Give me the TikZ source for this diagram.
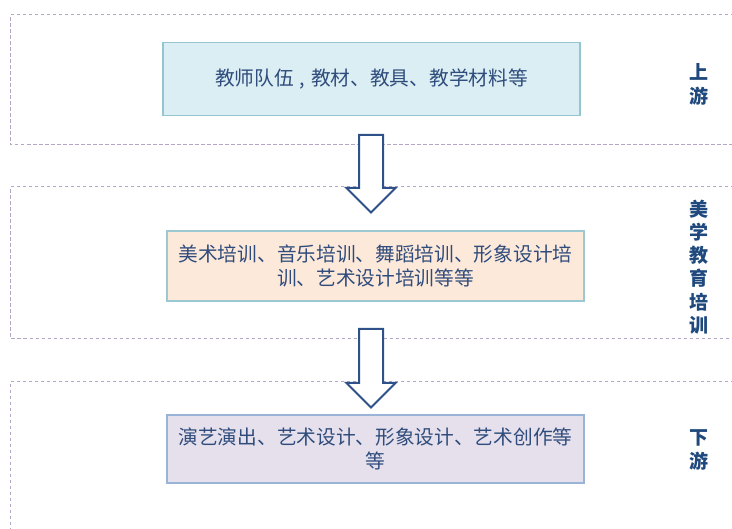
\documentclass[tikz,border=0pt]{standalone}
\usepackage{fontspec}
\usetikzlibrary{calc}
\setmainfont{Noto Sans CJK SC}
\newfontfamily\cjk{Noto Sans CJK SC}
\definecolor{dashc}{HTML}{B4A7C6}
\definecolor{txtc}{HTML}{2F4C7C}
\definecolor{lblc}{HTML}{1F497D}
\definecolor{arrc}{HTML}{2E5189}
\definecolor{fillA}{HTML}{DBEEF3}
\definecolor{drawA}{HTML}{93C6D1}
\definecolor{fillB}{HTML}{FDE9DA}
\definecolor{drawB}{HTML}{9CC8D2}
\definecolor{fillC}{HTML}{E5E0EC}
\definecolor{drawC}{HTML}{9AB4D8}
\tikzset{
  zone/.style={draw=dashc, line width=1pt, dash pattern=on 3.5pt off 2.5pt},
  boxnode/.style={rectangle, line width=1.5pt, minimum width=417pt, inner sep=0pt,
     align=center, text=txtc, font=\cjk\fontsize{19.7}{24}\selectfont},
  lblnode/.style={align=center, text=lblc, inner sep=0pt,
     font=\cjk\bfseries\fontsize{19}{23.3}\selectfont},
  blockarrow/.style={draw=arrc, fill=white, line width=2pt, line join=miter},
}
\begin{document}
\begin{tikzpicture}[x=1pt,y=-1pt]
\useasboundingbox (0,0) rectangle (732,529);
% dashed zones (open to the right)
\draw[zone] (740,15) -- (10.5,15) -- (10.5,145) -- (740,145);
\draw[zone] (740,187) -- (10.5,187) -- (10.5,338.5) -- (740,338.5);
\draw[zone] (740,381.5) -- (10.5,381.5) -- (10.5,535);
% boxes
\node[boxnode, fill=fillA, draw=drawA, minimum height=73pt] (b1) at (371.5,79.2)
  {教师队伍\hspace{0.3em},\hspace{0.3em}教材、教具、教学材料等};
\node[boxnode, fill=fillB, draw=drawB, minimum height=70pt] (b2) at (375.5,266)
  {美术培训、音乐培训、舞蹈培训、形象设计培\\训、艺术设计培训等等};
\node[boxnode, fill=fillC, draw=drawC, minimum height=68pt] (b3) at (375.5,449.2)
  {演艺演出、艺术设计、形象设计、艺术创作等\\等};
% side labels
\node[lblnode] (l1) at (699,84.5) {上\\游};
\node[lblnode] (l2) at (699,267) {美\\学\\教\\育\\培\\训};
\node[lblnode] (l3) at (699,450) {下\\游};
% block arrows between boxes
\coordinate (a1) at (371,135);
\coordinate (a2) at (371,329);
\foreach \c/\len in {a1/53,a2/54}{
  \draw[blockarrow] ($(\c)+(-12,0)$) -- ($(\c)+(12,0)$) -- ($(\c)+(12,\len)$)
    -- ($(\c)+(24.5,\len)$) -- ($(\c)+(0,\len+24.5)$) -- ($(\c)+(-24.5,\len)$)
    -- ($(\c)+(-12,\len)$) -- cycle;
}
\end{tikzpicture}
\end{document}
